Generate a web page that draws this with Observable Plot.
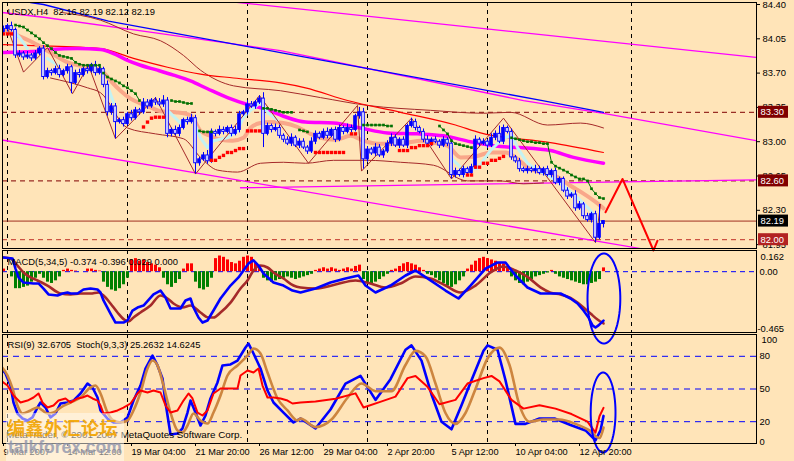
<!DOCTYPE html>
<html><head><meta charset="utf-8">
<script src="https://cdn.jsdelivr.net/npm/d3@7"></script>
<script src="https://cdn.jsdelivr.net/npm/@observablehq/plot@0.6"></script>
<style>
html,body{margin:0;padding:0;background:#FFE4B8;}
#chart{position:relative;width:794px;height:461px;background:#FFE4B8;overflow:hidden;font-family:"Liberation Sans",Arial,sans-serif;}
#chart svg{position:absolute;left:0;top:0;overflow:visible;}
.wm{position:absolute;white-space:nowrap;}
</style></head><body><div id="chart"></div>
<script>
// ---------------- DATA ----------------
const headerMain = "USDX,H4\u00A0\u00A082.16 82.19 82.12 82.19";
const headerMacd = "MACD(5,34,5) -0.374 -0.396 0.029 0.000";
const headerRsi = "RSI(9) 32.6705\u00A0\u00A0Stoch(9,3,3) 25.2632 14.6245";
const copyrightText = "MetaTrader, \u00A9 2001-2007 MetaQuotes Software Corp.";
const watermarkCn = "编鑫外汇论坛";
const watermarkUrl = "talkforex.com";

const firstOpen = 84.12;
const closes = [
84.15,84.18,84.14,83.88,83.90,83.86,83.88,83.85,83.90,83.95,
83.66,83.72,83.70,83.74,83.68,83.72,83.76,83.60,83.70,83.68,
83.74,83.72,83.78,83.70,83.74,83.58,83.30,83.36,83.20,83.22,
83.18,83.28,83.24,83.32,83.30,83.40,83.36,83.42,83.40,83.38,
83.42,83.08,83.12,83.08,83.14,83.22,83.20,83.24,82.78,82.82,
82.86,82.80,83.10,83.08,83.12,83.10,83.14,83.08,83.12,83.28,
83.30,83.38,83.36,83.40,83.44,83.08,83.16,83.12,83.14,83.06,
83.02,82.98,83.04,82.96,83.00,82.94,82.90,83.00,83.08,83.04,
83.10,83.06,83.12,83.02,83.14,83.10,83.14,83.12,83.26,83.30,
82.82,82.92,82.88,82.94,82.86,82.90,82.98,83.04,82.96,83.02,
82.96,83.16,83.20,83.14,83.10,83.02,82.98,83.02,83.00,82.96,
83.02,82.98,82.66,82.70,82.66,82.72,82.68,82.74,83.02,82.98,
83.00,82.96,83.04,83.08,83.00,83.14,83.10,82.84,82.80,82.72,
82.70,82.72,82.70,82.72,82.68,82.72,82.66,82.70,82.58,82.62,
82.50,82.44,82.46,82.32,82.36,82.24,82.20,82.26,82.02,82.16,
82.19];
// wick lengths in hundredths
const wickUp = [
3,2,4,2,3,2,4,2,3,2, 3,3,2,3,4,2,3,2,3,4, 2,3,2,4,3,2,4,3,3,2, 3,2,4,3,2,4,3,2,3,4,
5,3,2,4,3,2,3,4,3,2, 3,5,3,2,4,3,2,3,4,3, 2,4,3,2,3,6,3,2,4,3, 2,3,4,2,3,3,2,4,3,2,
3,4,2,3,3,2,4,3,2,5, 4,3,2,4,3,2,3,4,3,2, 3,2,4,3,2,3,4,2,3,2, 3,2,4,3,2,3,2,3,4,2,
3,2,4,3,8,3,2,3,2,3, 2,3,2,4,3,2,3,2,3,2, 2,3,2,4,3,2,3,2,3,20, 0];
const wickDn = [
2,3,2,3,2,3,2,3,2,2, 3,2,3,2,3,2,3,11,2,3, 2,3,2,3,2,3,4,3,17,2, 3,2,3,2,3,2,3,2,3,2,
3,4,3,2,3,2,3,2,11,3, 2,3,2,3,2,3,2,3,2,3, 2,3,2,3,2,14,2,3,2,3, 3,2,3,2,3,2,3,2,3,2,
2,3,2,3,2,3,2,3,2,3, 10,3,2,3,2,3,2,3,2,3, 2,3,2,3,2,3,2,3,2,3, 2,3,4,3,2,3,2,3,2,3,
2,3,2,3,2,3,2,3,2,3, 2,3,2,3,2,3,2,3,2,3, 2,3,2,3,2,3,2,3,5,2, 4];

const greenStop = [
null,null,null,84.19,84.18,84.17,84.14,84.11,84.08,84.05,
84.01,83.98,83.95,83.91,83.88,83.87,83.86,83.85,83.81,83.79,
83.78,83.78,83.78,83.78,83.78,83.70,83.66,83.64,83.62,83.60,
83.57,83.55,83.52,83.49,83.42,null,null,null,null,null,
null,null,83.42,83.41,83.41,83.40,83.39,83.39,null,83.11,
83.10,83.10,83.10,null,null,null,null,null,null,null,
null,null,null,null,null,83.34,83.34,83.33,83.32,83.31,
83.30,83.30,83.30,null,83.12,83.11,83.10,null,null,null,
null,null,null,null,null,null,null,null,null,null,
83.17,83.17,83.17,83.17,83.17,83.17,83.16,83.16,null,null,
null,null,null,null,null,null,null,null,null,83.16,
83.12,83.08,83.01,82.98,82.97,82.96,82.95,82.94,null,null,
null,null,null,null,null,null,null,83.04,83.03,83.02,
83.01,83.00,83.00,82.99,82.99,82.98,82.98,82.79,82.75,82.73,
82.71,82.69,82.66,82.64,82.62,82.62,82.60,82.52,82.47,82.43,
82.42];
const redStop = [
84.10,84.10,84.10,null,null,null,null,null,null,null,
null,null,null,null,null,null,null,null,null,null,
null,null,null,null,null,null,null,null,null,null,
null,null,null,null,null,83.15,83.20,83.24,83.25,83.25,
83.25,null,null,null,null,null,null,null,null,null,
null,null,82.81,82.81,82.84,82.86,82.89,82.89,82.91,82.93,
82.93,83.11,83.11,83.11,83.11,null,null,null,null,null,
null,null,null,null,null,null,null,null,82.89,82.89,
82.89,82.89,82.89,82.89,82.89,82.89,null,83.08,83.08,null,
null,null,null,null,null,null,null,null,null,82.91,
82.91,82.91,82.94,82.94,82.96,82.96,82.96,82.98,null,null,
null,null,null,null,null,null,82.66,82.66,82.74,82.74,
82.78,82.78,82.81,82.81,82.83,82.85,null,null,null,null,
null,null,null,null,null,null,null,null,null,null,
null,null,null,null,null,null,null,null,null,null,
null];

// [bar, price] readings
const maMagenta = [[0,83.91],[7.5,83.92],[11.75,83.94],[18.5,83.95],[24.25,83.94],[27.5,83.90],[31,83.83],[34.25,83.78],[38.5,83.73],[42.5,83.68],[46.75,83.62],[51,83.54],[56,83.45],[61,83.38],[65,83.34],[70,83.26],[75.5,83.20],[82.5,83.19],[89.25,83.14],[96,83.09],[103.5,83.08],[110,83.06],[116.75,83.00],[124.25,82.95],[129.25,82.94],[136.75,82.91],[142.5,82.84],[150,82.78]];
const maSalmon = [[0,84.14],[2.5,84.10],[7.5,84.01],[11.75,83.91],[16,83.81],[20,83.77],[24.25,83.73],[27.25,83.60],[29.25,83.52],[31.75,83.44],[34.25,83.39],[36.75,83.35],[39.25,83.31],[43,83.30],[46.75,83.27],[49.25,83.11],[51.75,83.06],[54.25,83.02],[57.25,83.01],[60,83.04],[61.75,83.14],[64.25,83.19],[66.75,83.20],[70,83.19],[73.5,83.15],[76.75,83.08],[79.25,83.04],[83,83.02],[86.75,83.06],[90,83.01],[93.5,82.98],[97.5,82.98],[101,82.99],[104.25,83.01],[107.5,82.99],[111,82.96],[114.25,82.84],[118,82.85],[121.75,82.89],[125.5,82.89],[128,82.84],[131,82.74],[135,82.68],[138.5,82.64],[141.75,82.55],[145,82.47],[148.5,82.37],[150,82.32]];
const maCyan = [
 [[3,84.11],[4.25,84.05],[6,83.95]],
 [[11,83.85],[13.5,83.78]],
 [[26,83.57],[27.5,83.40]],
 [[41,83.32],[44.25,83.19],[47.25,83.24],[49.25,83.04],[51,82.94],[52.5,83.01],[56,83.04],[58.5,83.11],[60,83.25],[61.75,83.32],[64.25,83.40],[66.25,83.29],[68.5,83.22]],
 [[111.75,82.84],[115,82.71],[118.5,82.73],[121.75,82.91],[125,83.04],[127.25,83.06],[128.5,82.94],[131,82.78],[133.5,82.71],[136.75,82.64],[140,82.55],[143.5,82.43],[146.75,82.30],[148.5,82.20],[149.25,82.17]]
];
const maRed = [[0,83.99],[7.5,83.98],[24.25,83.95],[32.5,83.85],[41,83.76],[49.25,83.69],[57.5,83.65],[69.25,83.60],[75.5,83.55],[86,83.42],[99.25,83.30],[113,83.17],[119.25,83.09],[136.75,82.99],[150,82.89]];
const bandUpper = [[14.25,84.32],[24.25,84.24],[32.5,84.10],[39.25,84.03],[45,83.88],[49.25,83.73],[57.5,83.57],[69.25,83.52],[79.25,83.45],[91,83.37],[106.75,83.32],[120,83.29],[126.75,83.30],[136,83.17],[144.25,83.19],[150,83.14]];
const bandLower = [[11.75,83.65],[21,83.55],[24.25,83.50],[31,83.14],[38,83.08],[45,83.03],[49.25,82.84],[53.5,82.71],[58.5,82.69],[64.25,82.78],[70,82.79],[75.5,82.78],[82.5,82.81],[91,82.81],[99.25,82.79],[107.5,82.76],[116,82.60],[124.25,82.60],[130,82.57],[135,82.58]];
const zigzag = [[1,84.16],[5,83.71],[11,83.96],[17.25,83.49],[21.25,83.78],[28,83.03],[38,83.45],[48,82.67],[64,83.47],[76.25,82.78],[88.5,83.37],[89.5,82.70],[102,83.24],[112,82.62],[125,83.24],[148,81.97],[149.25,82.36]];
const chanBlue = [[6.75,84.42],[10,84.40],[26.25,84.23],[69.25,83.91],[134.75,83.42],[150,83.30]];
const chanMag1 = [[51.75,84.45],[188.25,83.86]];
const chanMag2 = [[-0.75,84.32],[10,84.27],[38,84.11],[69.25,83.93],[130,83.42],[150,83.29],[188.25,83.01]];
const chanMag3 = [[-0.75,83.02],[159.25,81.91]];
const chanMag4 = [[59.25,82.53],[188.25,82.61]];
const dashedLevels = [83.30, 82.60];
const bidLevel = 82.19;
const lowLevel = 82.00;
const boxLevels = [83.30, 82.60, 82.19, 82.00];
const forecast = [[150.5,82.28],[154.75,82.62],[162.5,81.89],[163.5,81.99]];
const gridBars = [1,31,61,91,121,157];
const priceTicks = [84.40,84.05,83.70,83.35,83.00,82.65,82.30,81.95];
const timeTickBars = [0,16,32,48,64,80,96,112,128,144];
const timeLabels = ["9 Mar 2007","14 Mar 12:00","19 Mar 04:00","21 Mar 20:00","26 Mar 12:00","29 Mar 04:00","2 Apr 20:00","5 Apr 12:00","10 Apr 04:00","12 Apr 20:00"];

const macdMain = [[0,0.108],[2.25,0.101],[3,0.024],[3.75,-0.044],[5,-0.083],[7.5,-0.090],[8.75,-0.090],[10,-0.129],[11.25,-0.174],[13.5,-0.182],[14.75,-0.167],[16,-0.159],[16.75,-0.167],[18.5,-0.167],[20,-0.136],[21.75,-0.129],[23.5,-0.136],[24.25,-0.159],[25,-0.220],[26.75,-0.320],[28,-0.389],[30,-0.389],[31,-0.373],[32.25,-0.297],[33.5,-0.274],[35,-0.259],[37.5,-0.174],[39.25,-0.144],[40.5,-0.197],[41.75,-0.281],[44.25,-0.281],[45.5,-0.220],[46.75,-0.205],[47.5,-0.274],[48.75,-0.350],[49.75,-0.389],[51,-0.373],[52.5,-0.297],[54.25,-0.205],[56.75,-0.106],[58.75,-0.044],[60,0.009],[61.25,0.063],[62.5,0.086],[63.75,0.047],[65,-0.014],[67.5,-0.083],[70,-0.106],[72.25,-0.144],[74.25,-0.159],[78,-0.129],[81.75,-0.083],[85.5,-0.052],[88.75,-0.029],[90.5,-0.106],[93,-0.159],[96.75,-0.106],[100.5,-0.029],[103,0.009],[106.75,-0.067],[110.5,-0.144],[113.75,-0.205],[116.75,-0.106],[120.5,0.024],[123.5,0.070],[125.5,0.070],[128,-0.029],[131,-0.121],[134.25,-0.167],[136.75,-0.167],[139.25,-0.167],[141.75,-0.205],[143.5,-0.243],[145,-0.297],[146.25,-0.350],[147.25,-0.411],[148,-0.427],[148.75,-0.411],[150,-0.374]];
const macdSignal = [[0,0.108],[1.75,0.101],[3.5,0.047],[5,-0.006],[6.75,-0.044],[8.5,-0.067],[11,-0.106],[14.25,-0.167],[16.75,-0.174],[19.25,-0.167],[21.75,-0.167],[23.75,-0.159],[25,-0.182],[26.75,-0.243],[28.5,-0.312],[30.5,-0.373],[31.25,-0.381],[32.5,-0.350],[34.25,-0.312],[36.75,-0.259],[39.25,-0.182],[41,-0.205],[42.5,-0.243],[44.75,-0.274],[46.75,-0.259],[49.25,-0.312],[51.25,-0.350],[52.5,-0.350],[54.25,-0.312],[56.75,-0.236],[59.25,-0.129],[61,-0.067],[62.5,0.009],[64.25,0.047],[66,0.032],[67.5,-0.006],[70,-0.052],[72.5,-0.106],[74.25,-0.121],[78,-0.129],[83,-0.098],[88,-0.067],[91.75,-0.090],[95.5,-0.121],[99.25,-0.090],[103,-0.037],[106.75,-0.052],[110.5,-0.106],[114.25,-0.159],[118,-0.106],[121.75,-0.006],[125,0.040],[128,0.009],[131,-0.040],[134.25,-0.120],[136.75,-0.160],[139.25,-0.175],[141.75,-0.200],[143.5,-0.236],[145,-0.274],[146.75,-0.320],[148.5,-0.366],[150,-0.396]];
const macdHist = [
0.02,0.00,-0.04,-0.13,-0.13,-0.12,-0.11,-0.08,-0.05,-0.02,
-0.05,-0.08,-0.09,-0.07,-0.04,0.01,0.02,0.01,0.005,0.00,
0.00,0.02,0.02,0.01,0.005,-0.08,-0.12,-0.14,-0.15,-0.13,
-0.10,-0.05,0.09,0.10,0.08,0.09,0.07,0.06,0.05,0.03,
-0.05,-0.10,-0.12,-0.09,-0.06,0.02,0.06,0.06,-0.08,-0.13,
-0.14,-0.12,-0.05,0.10,0.12,0.11,0.09,0.07,0.06,0.08,
0.11,0.12,0.11,0.07,0.04,-0.05,-0.07,-0.08,-0.07,-0.06,
-0.05,-0.04,-0.05,-0.06,-0.05,-0.04,-0.03,-0.02,0.01,0.02,
0.03,0.02,0.03,0.02,0.01,0.02,0.03,0.02,0.04,0.05,
-0.06,-0.09,-0.10,-0.08,-0.06,-0.04,-0.02,0.01,0.02,0.04,
0.06,0.07,0.06,0.05,0.03,0.01,-0.02,-0.03,-0.05,-0.07,
-0.09,-0.11,-0.12,-0.10,-0.07,-0.04,0.02,0.05,0.08,0.10,
0.11,0.10,0.09,0.08,0.07,0.06,0.04,-0.04,-0.07,-0.09,
-0.10,-0.08,-0.06,-0.04,-0.03,-0.02,-0.01,0.01,-0.02,-0.04,
-0.05,-0.06,-0.07,-0.08,-0.09,-0.10,-0.10,-0.09,-0.08,-0.06,
0.029];

const stochMain = [[-0.75,69.7],[0.5,64.2],[1.75,53.2],[2.5,37.6],[3.5,27.5],[4.75,22.9],[6,21.1],[7.25,23.9],[8.5,33.0],[9.25,37.6],[10.5,33.0],[11.75,23.9],[13,27.5],[14.25,36.7],[16,37.6],[17.5,39.4],[19.25,45.9],[21,55.0],[22.25,51.4],[23.5,42.2],[24.25,30.3],[26,22.9],[27.5,19.3],[29.25,19.3],[31,23.9],[32.5,39.4],[34.25,53.2],[35.5,68.8],[37.25,80.7],[38.5,71.6],[39.75,59.6],[40.5,37.6],[41.75,8.3],[43.5,9.2],[44.75,13.8],[46,28.4],[46.75,39.4],[48,28.4],[49.25,16.5],[50.5,25.7],[51.75,41.3],[53.5,56.0],[54.75,71.6],[56.75,72.5],[58.5,76.1],[60.5,88.1],[61.25,91.7],[62.5,82.6],[64.25,68.8],[66,48.6],[67.5,37.6],[70,28.4],[72.5,19.3],[74.25,22.9],[78,13.8],[81.75,31.2],[85.5,55],[89.25,62],[93,40],[96.75,59],[100.5,86],[102,90],[104.5,76],[107,45],[109.5,20],[112,13],[114.5,35],[117,58],[120,85],[121,90],[123.5,86],[125.5,58],[128,18],[130.5,18],[134,23],[137.75,23],[141.75,17],[145.5,12],[148,3],[149.25,12],[150,25.3]];
const stochSignal = [[-0.75,71.6],[1,62.4],[2.25,50.5],[3.5,34.9],[4.75,27.5],[6.75,30.3],[8.5,33.0],[9.75,30.3],[11,27.5],[12.5,28.4],[14.25,33.0],[16.75,37.6],[19.25,42.2],[21.75,51.4],[23,53.2],[24.25,45.9],[26,28.4],[27.5,21.1],[29.25,19.3],[31,21.1],[32.5,30.3],[34.25,46.8],[36,68.8],[37.25,76.1],[38.5,71.6],[40,53.2],[41.75,28.4],[43.5,11.9],[44.75,10.1],[46,16.5],[47.5,27.5],[49.25,21.1],[51,18.3],[52.5,28.4],[54.25,44.0],[56,62.4],[58.5,71.6],[61,80.7],[62.5,87.2],[64.25,82.6],[66,65.1],[68.5,41.3],[71,30.3],[73.5,21.1],[74.25,22.9],[78,15],[82,22],[86,42],[89.5,55],[93,48],[97,48],[100.5,72],[103,85],[105.5,80],[108,55],[110.5,28],[113,18],[115.5,28],[118,50],[121,78],[124,88],[126.5,72],[129,35],[131.5,20],[135,22],[139,22],[143,18],[146.5,12],[149,5],[150,14.6]];
const rsiLine = [[-0.75,57.8],[1,53.2],[2.5,44.0],[4.25,37.6],[6,39.4],[7.5,42.2],[8.75,45.9],[9.75,37.6],[11,33.0],[12.5,34.9],[13.75,39.4],[15.5,41.3],[16.75,37.6],[18.5,41.3],[19.75,42.2],[21,44.0],[22.25,41.3],[23.5,39.4],[24.25,34.9],[25,27.5],[26.75,28.4],[28.5,30.3],[30,33.0],[31.75,36.7],[33.5,45.9],[34.25,48.6],[36,46.8],[37.5,48.6],[39.25,46.8],[40.5,34.9],[41.75,28.4],[43.5,30.3],[45,39.4],[46.25,45.9],[47.25,41.3],[48.5,28.4],[49.75,25.7],[51,30.3],[52.5,45.9],[54.25,50.5],[56.75,50.5],[58.5,50.5],[59.25,62.4],[61,67.0],[62.5,65.1],[63.75,68.8],[64.75,53.2],[66,42.2],[67.5,42.2],[69.25,41.3],[71,39.4],[72.25,36.7],[74.25,37.6],[78,38.5],[83,41],[88,46],[90,33],[94,38],[98,43],[101,60],[103,62],[106,52],[109,36],[113,40],[116,55],[120,60],[122,62],[124,57],[127,40],[130,32],[134,35],[138,32],[142,27],[146,20],[148,10],[149,25],[150,32.7]];
const macdTickTop = 0.162, macdTickZero = 0, macdTickBottom = -0.465;
const rsiLevels = [80,50,20,0];
const rsiMidTicks = [80,50,20];

// ---------------- LAYOUT / STYLE ----------------
const W = 794, H = 461;
const FONT = "'Liberation Sans', Arial, sans-serif";
const xDomain = [-0.25, 188.25], xRange = [2, 756];
const style = {background: "transparent", fontFamily: FONT, fontSize: "9.4px", color: "#000", overflow: "visible"};
const P = d => d[0], V = d => d[1];
const pricePerPx = (84.40 - 81.95) / (244.1 - 4);

const bars = closes.map((c, i) => {
  const o = i === 0 ? firstOpen : closes[i - 1];
  return {i, o, c, h: Math.max(o, c) + wickUp[i] / 100, l: Math.min(o, c) - wickDn[i] / 100};
});
const bodyTop = d => Math.abs(d.c - d.o) < 0.012 ? d.o + 0.012 : d.c;
const greenPts = greenStop.map((v, i) => ({i, v}));
const redPts = redStop.map((v, i) => ({i, v})).filter(d => d.v != null);
const cyanPts = maCyan.flatMap((seg, s) => seg.map(p => ({b: p[0], v: p[1], s})));

function ellipse(cx, cy, rx, ry) {
  return d3.range(0, 361, 4).map(a => [cx + rx * Math.cos(a * Math.PI / 180), cy + ry * Math.sin(a * Math.PI / 180)]);
}

const chart = document.getElementById("chart");

// ---------------- MAIN PANEL ----------------
const main = Plot.plot({
  width: W, height: H,
  marginLeft: 2, marginRight: 38, marginTop: 2, marginBottom: H - 248,
  x: {domain: xDomain, range: xRange, axis: null},
  y: {domain: [81.95, 84.40], range: [244.1, 4]},
  style,
  marks: [
    Plot.ruleX(gridBars, {stroke: "#000", strokeDasharray: "4,4"}),
    Plot.ruleY(dashedLevels, {stroke: "#800000", strokeDasharray: "5,4"}),
    Plot.ruleY([lowLevel], {stroke: "#C03028", strokeDasharray: "5,4"}),
    Plot.ruleY([bidLevel], {stroke: "#A03020"}),
    Plot.line(chanMag1, {x: P, y: V, stroke: "#FF00FF", strokeWidth: 1.3, clip: true}),
    Plot.line(chanMag2, {x: P, y: V, stroke: "#FF00FF", strokeWidth: 1.3, clip: true}),
    Plot.line(chanMag3, {x: P, y: V, stroke: "#FF00FF", strokeWidth: 1.3, clip: true}),
    Plot.line(chanMag4, {x: P, y: V, stroke: "#FF00FF", strokeWidth: 1.3, clip: true}),
    Plot.line(chanBlue, {x: P, y: V, stroke: "#0000FF", strokeWidth: 1.3, clip: true}),
    Plot.line(bandUpper, {x: P, y: V, stroke: "#A52A2A", strokeWidth: 1, curve: "monotone-x", clip: true}),
    Plot.line(bandLower, {x: P, y: V, stroke: "#A52A2A", strokeWidth: 1, curve: "monotone-x", clip: true}),
    Plot.line(maRed, {x: P, y: V, stroke: "#FF0000", strokeWidth: 1.2, curve: "monotone-x", clip: true}),
    Plot.line(maMagenta, {x: P, y: V, stroke: "#FF00FF", strokeWidth: 3.5, curve: "monotone-x", clip: true}),
    Plot.line(maSalmon, {x: P, y: V, stroke: "#F9A78A", strokeWidth: 4, curve: "monotone-x", clip: true}),
    Plot.line(cyanPts, {x: "b", y: "v", z: "s", stroke: "#C4F2F2", strokeWidth: 3, clip: true}),
    Plot.line(zigzag, {x: P, y: V, stroke: "#A52A2A", strokeWidth: 1, clip: true}),
    Plot.line(greenPts, {x: "i", y: "v", stroke: "#007000", strokeWidth: 1, clip: true}),
    Plot.ruleX(bars, {x: "i", y1: "l", y2: "h", stroke: "#0000FF", strokeWidth: 1, clip: true}),
    Plot.rect(bars.filter(d => d.c >= d.o), {x1: d => d.i - 0.32, x2: d => d.i + 0.32, y1: "o", y2: bodyTop, fill: "#0000FF", stroke: "#0000FF", strokeWidth: 1, clip: true}),
    Plot.rect(bars.filter(d => d.c < d.o), {x1: d => d.i - 0.32, x2: d => d.i + 0.32, y1: "o", y2: "c", fill: "#FFFFFF", stroke: "#0000FF", strokeWidth: 1, clip: true}),
    Plot.dot(greenPts.filter(d => d.v != null), {x: "i", y: "v", symbol: "square", r: 1.5, fill: "#007000", clip: true}),
    Plot.dot(redPts, {x: "i", y: "v", symbol: "square", r: 1.9, fill: "#FF0000", clip: true}),
    Plot.line(forecast, {x: P, y: V, stroke: "#FF0000", strokeWidth: 2}),
    Plot.frame({stroke: "#000"}),
    Plot.axisY(priceTicks, {anchor: "right", tickSize: 3, tickPadding: 3, tickFormat: d => d.toFixed(2), label: null}),
    Plot.rect(boxLevels.slice(0, 2), {x1: () => xDomain[1] + 0.5, x2: () => xDomain[1] + 8, y1: d => d - 6 * pricePerPx, y2: d => d + 6 * pricePerPx, fill: "#800000"}),
    Plot.rect([boxLevels[2]], {x1: () => xDomain[1] + 0.5, x2: () => xDomain[1] + 8, y1: d => d - 6 * pricePerPx, y2: d => d + 6 * pricePerPx, fill: "#000000"}),
    Plot.rect([boxLevels[3]], {x1: () => xDomain[1] + 0.5, x2: () => xDomain[1] + 8, y1: d => d - 6 * pricePerPx, y2: d => d + 6 * pricePerPx, fill: "#B22222"}),
    Plot.text(boxLevels, {x: () => xDomain[1], y: d => d, text: d => d.toFixed(2), textAnchor: "start", dx: 4, fill: "#FFFFFF"}),
    Plot.text([headerMain], {frameAnchor: "top-left", text: d => d, textAnchor: "start", lineAnchor: "middle", dx: 5, dy: 9})
  ]
});
chart.appendChild(main);

// ---------------- MACD PANEL ----------------
const histData = macdHist.map((h, i) => ({i, h}));
const ellMacd = ellipse(150.1, -0.205, 4.1, 0.344);
const macd = Plot.plot({
  width: W, height: H,
  marginLeft: 2, marginRight: 38, marginTop: 250, marginBottom: H - 332,
  x: {domain: xDomain, range: xRange, axis: null},
  y: {domain: [-0.465, 0.162], range: [332, 250], axis: null},
  style,
  marks: [
    Plot.ruleX(gridBars, {stroke: "#000", strokeDasharray: "4,4"}),
    Plot.ruleY([0], {stroke: "#0000FF", strokeDasharray: "5,4"}),
    Plot.ruleX(histData.filter(d => d.h >= 0), {x: "i", y1: () => 0, y2: "h", stroke: "#FF0000", strokeWidth: 3, clip: true}),
    Plot.ruleX(histData.filter(d => d.h < 0), {x: "i", y1: () => 0, y2: "h", stroke: "#008000", strokeWidth: 3, clip: true}),
    Plot.line(macdSignal, {x: P, y: V, stroke: "#A52A2A", strokeWidth: 2.6, curve: "monotone-x", clip: true}),
    Plot.line(macdMain, {x: P, y: V, stroke: "#0000FF", strokeWidth: 2.6, clip: true}),
    Plot.line(ellMacd, {x: P, y: V, stroke: "#0000FF", strokeWidth: 2}),
    Plot.frame({stroke: "#000"}),
    Plot.text([macdTickTop], {x: () => xDomain[1], y: d => d, text: d => d.toFixed(3), textAnchor: "start", lineAnchor: "top", dx: 4, dy: 3}),
    Plot.text([macdTickZero], {x: () => xDomain[1], y: d => d, text: d => d.toFixed(2), textAnchor: "start", dx: 3}),
    Plot.text([macdTickBottom], {x: () => xDomain[1], y: d => d, text: d => d.toFixed(3), textAnchor: "start", lineAnchor: "bottom", dx: 1, dy: -1}),
    Plot.text([headerMacd], {frameAnchor: "top-left", text: d => d, textAnchor: "start", lineAnchor: "middle", dx: 5, dy: 11})
  ]
});
chart.appendChild(macd);

// ---------------- RSI / STOCH PANEL ----------------
const ellRsi = ellipse(149.9, 28.4, 3.1, 36.7);
const rsi = Plot.plot({
  width: W, height: H,
  marginLeft: 2, marginRight: 38, marginTop: 334, marginBottom: H - 443,
  x: {domain: xDomain, range: xRange},
  y: {domain: [0, 100], range: [443, 334], axis: null},
  style,
  marks: [
    Plot.ruleX(gridBars, {stroke: "#000", strokeDasharray: "4,4"}),
    Plot.ruleY(rsiLevels, {stroke: "#0000FF", strokeDasharray: "6,5"}),
    Plot.line(stochMain, {x: P, y: V, stroke: "#0000FF", strokeWidth: 2.6, clip: true}),
    Plot.line(stochSignal, {x: P, y: V, stroke: "#CD853F", strokeWidth: 2.6, curve: "monotone-x", clip: true}),
    Plot.line(rsiLine, {x: P, y: V, stroke: "#FF0000", strokeWidth: 2, clip: true}),
    Plot.line(ellRsi, {x: P, y: V, stroke: "#0000FF", strokeWidth: 2}),
    Plot.frame({stroke: "#000"}),
    Plot.text([100], {x: () => xDomain[1], y: d => d, text: d => String(d), textAnchor: "start", lineAnchor: "top", dx: 5, dy: 2}),
    Plot.text(rsiMidTicks, {x: () => xDomain[1], y: d => d, text: d => String(d), textAnchor: "start", dx: 3}),
    Plot.text([0], {x: () => xDomain[1], y: d => d, text: d => String(d), textAnchor: "start", lineAnchor: "bottom", dx: 3, dy: 1}),
    Plot.text([headerRsi], {frameAnchor: "top-left", text: d => d, textAnchor: "start", lineAnchor: "middle", dx: 5, dy: 10}),
    Plot.axisX(timeTickBars, {anchor: "bottom", tickSize: 3, tickFormat: () => "", label: null}),
    Plot.text(timeTickBars, {x: d => d, text: (d, i) => timeLabels[i], frameAnchor: "bottom", textAnchor: "start", lineAnchor: "middle", dy: 9, dx: 0, fontSize: 9.2})
  ]
});
chart.appendChild(rsi);

// ---------------- WATERMARK (text) ----------------
const wm = [
  {t: copyrightText, css: "left:6px;top:429px;font:9.8px " + FONT + ";color:#000;"},
  {t: "", css: "left:6px;top:413px;width:118px;height:48px;background:rgba(255,252,245,0.5);"},
  {t: watermarkCn, css: "left:7px;top:414px;font:bold 18px 'Noto Sans CJK SC';letter-spacing:0.5px;color:#F2A400;opacity:0.9;"},
  {t: watermarkUrl, css: "left:8px;top:437px;font:bold 17.5px " + FONT + ";color:#8A90AA;opacity:0.75;"}
];
wm.forEach(w => { const d = document.createElement("div"); d.className = "wm"; d.style.cssText = w.css; d.textContent = w.t; chart.appendChild(d); });
</script></body></html>
